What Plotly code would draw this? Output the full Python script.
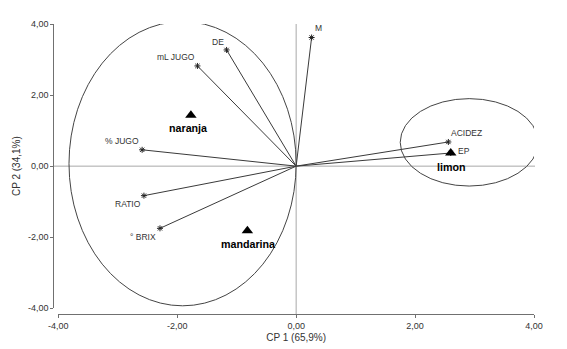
import plotly.graph_objects as go

# Variable loadings (vectors from origin)
var_names = ["DE", "mL JUGO", "% JUGO", "RATIO", "° BRIX", "M", "ACIDEZ", "EP"]
var_x = [-1.17, -1.66, -2.59, -2.56, -2.29, 0.26, 2.56, 2.60]
var_y = [3.27, 2.82, 0.46, -0.83, -1.75, 3.62, 0.68, 0.37]

# Group centroids
grp_names = ["naranja", "mandarina", "limon"]
grp_x = [-1.77, -0.82, 2.60]
grp_y = [1.43, -1.82, 0.37]

# Ellipses: center x, center y, radius x, radius y
ell_cx = [-1.91, 2.91]
ell_cy = [0.07, 0.67]
ell_rx = [1.91, 1.16]
ell_ry = [4.0, 1.23]

ticks = [-4, -2, 0, 2, 4]

W, H = 567, 349
OX, OY = 8, 8  # page body margin compensation
FONT = "Liberation Sans, Arial, sans-serif"

def px(v):
    return (v - OX) / W

def py(v):
    return 1 - (v - OY) / H

fig = go.Figure()

# vectors
for i in range(len(var_names)):
    fig.add_trace(go.Scatter(
        x=[0, var_x[i]], y=[0, var_y[i]], mode="lines",
        line=dict(color="#3a3a3a", width=1), showlegend=False, hoverinfo="skip"))

fig.add_trace(go.Scatter(
    x=var_x, y=var_y, mode="markers",
    marker=dict(symbol="asterisk-open", size=5, color="#222222", line=dict(width=1, color="#222222")),
    showlegend=False, cliponaxis=False))

# variable label offsets (data units)
label_shift = {
    "DE": (-0.14, 0.23), "mL JUGO": (-0.36, 0.25), "% JUGO": (-0.34, 0.24),
    "RATIO": (-0.26, -0.23), "° BRIX": (-0.29, -0.23), "M": (0.115, 0.26),
    "ACIDEZ": (0.31, 0.25), "EP": (0.23, 0.05),
}
for n, x, y in zip(var_names, var_x, var_y):
    dx, dy = label_shift[n]
    fig.add_annotation(x=x + dx, y=y + dy, text=n, showarrow=False,
                       font=dict(family=FONT, size=8.5, color="#333333"),
                       xanchor="center", yanchor="middle")

# group triangles
fig.add_trace(go.Scatter(
    x=grp_x, y=grp_y, mode="markers",
    marker=dict(symbol="triangle-up", size=10, color="black"),
    showlegend=False, cliponaxis=False))
grp_shift = {"naranja": (-0.04, -0.36), "mandarina": (0.02, -0.36), "limon": (0.01, -0.40)}
for n, x, y in zip(grp_names, grp_x, grp_y):
    dx, dy = grp_shift[n]
    fig.add_annotation(x=x + dx, y=y + dy, text="<b>" + n + "</b>", showarrow=False,
                       font=dict(family=FONT, size=10.7, color="black"),
                       xanchor="center", yanchor="middle")

# ellipses
for cx, cy, rx, ry in zip(ell_cx, ell_cy, ell_rx, ell_ry):
    fig.add_shape(type="circle", xref="x", yref="y",
                  x0=cx - rx, x1=cx + rx, y0=cy - ry, y1=cy + ry,
                  line=dict(color="#444444", width=1))

# zero lines
fig.add_shape(type="line", xref="paper", yref="y", x0=px(53), x1=px(535), y0=0, y1=0,
              line=dict(color="#a8a8a8", width=1), layer="below")
fig.add_shape(type="line", xref="x", yref="paper", x0=0, x1=0, y0=py(314), y1=py(24),
              line=dict(color="#a8a8a8", width=1), layer="below")

tick_text = [f"{t:.2f}".replace(".", ",") for t in ticks]

fig.update_layout(
    width=W, height=H,
    margin=dict(l=0, r=0, t=0, b=0, autoexpand=False),
    paper_bgcolor="white", plot_bgcolor="white",
    font=dict(family=FONT, size=9, color="#333333"),
    xaxis=dict(domain=[px(58.3), px(534)], range=[-4, 4],
               anchor="free", position=py(314), automargin=False,
               showgrid=False, zeroline=False, showline=True, linecolor="#707070", linewidth=1,
               ticks="outside", ticklen=3, tickcolor="#707070",
               tickvals=ticks, ticktext=tick_text,
               tickfont=dict(family=FONT, size=9, color="#333333"),
               title=dict(text="CP 1 (65,9%)", font=dict(family=FONT, size=10, color="#333333"), standoff=4)),
    yaxis=dict(domain=[py(308.3), py(24)], range=[-4, 4],
               anchor="free", position=px(53.3), automargin=False,
               showgrid=False, zeroline=False, showline=True, linecolor="#707070", linewidth=1,
               ticks="outside", ticklen=3, tickcolor="#707070",
               tickvals=ticks, ticktext=tick_text,
               tickfont=dict(family=FONT, size=9, color="#333333"),
               title=dict(text="CP 2 (34,1%)", font=dict(family=FONT, size=10, color="#333333"), standoff=4)),
)

fig.write_html("out.html")
